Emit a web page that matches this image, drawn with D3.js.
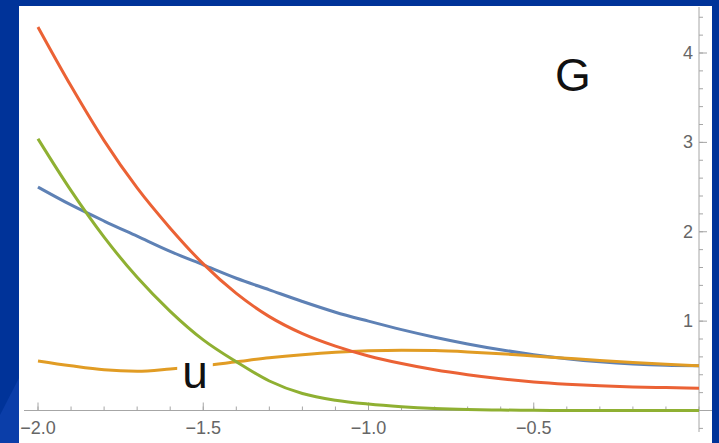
<!DOCTYPE html>
<html>
<head>
<meta charset="utf-8">
<script src="https://cdn.jsdelivr.net/npm/d3@7"></script>
<style>
  html, body { margin: 0; padding: 0; background: #003399; }
  svg { display: block; }
</style>
</head>
<body>
<svg id="chart" width="719" height="443"></svg>
<script>
// Sample points along x (step 0.1)
const xs = [-2.0, -1.9, -1.8, -1.7, -1.6, -1.5, -1.4, -1.3, -1.2, -1.1, -1.0,
            -0.9, -0.8, -0.7, -0.6, -0.5, -0.4, -0.3, -0.2, -0.1, 0.0];

// Curve values at those x
const blueVals   = [2.50, 2.30, 2.12, 1.95, 1.78, 1.63, 1.48, 1.35, 1.22, 1.10, 1.00,
                    0.905, 0.82, 0.745, 0.68, 0.625, 0.58, 0.545, 0.52, 0.505, 0.50];
const orangeVals = [0.555, 0.50, 0.455, 0.44, 0.465, 0.50, 0.545, 0.59, 0.625, 0.652, 0.668,
                    0.675, 0.67, 0.655, 0.635, 0.61, 0.585, 0.56, 0.537, 0.517, 0.50];
const greenVals  = [3.04, 2.46, 1.94, 1.49, 1.11, 0.79, 0.545, 0.33, 0.19, 0.115, 0.072,
                    0.043, 0.023, 0.011, 0.005, 0.002, 0.001, 0, 0, 0, 0];
const redVals    = [4.29, 3.63, 3.02, 2.49, 2.04, 1.64, 1.31, 1.05, 0.86, 0.72, 0.61,
                    0.525, 0.455, 0.40, 0.355, 0.32, 0.295, 0.277, 0.264, 0.256, 0.25];

// Axis ticks
const xMajorTicks = [-2.0, -1.5, -1.0, -0.5];
const xTickLabels = ["\u22122.0", "\u22121.5", "\u22121.0", "\u22120.5"];
const xMinorTicks = d3.range(-20, 1).map(i => i / 10);
const yMajorTicks = [1, 2, 3, 4];
const yTickLabels = ["1", "2", "3", "4"];
const yMinorTicks = d3.range(-1, 23).map(i => i / 5);

const svg = d3.select("#chart");

// Slide background with a lighter diagonal streak in the lower-left corner
svg.append("rect").attr("x", 0).attr("y", 0).attr("width", 719).attr("height", 443).attr("fill", "#003399");
svg.append("polygon").attr("points", "0,443 0,415 19,378 19,443").attr("fill", "#0b3ea9");

// White plotting panel
svg.append("rect").attr("x", 19).attr("y", 6).attr("width", 693).attr("height", 437).attr("fill", "#ffffff");

const x = d3.scaleLinear().domain([-2, 0]).range([38, 699]);
const y = d3.scaleLinear().domain([0, 4]).range([410.5, 53]);

const axisColor = "#a6a6a6";
const labelColor = "#666666";
const g = svg.append("g");

// x axis (drawn at y = 0), ticks pointing up
g.append("line").attr("x1", 24).attr("x2", 712).attr("y1", y(0)).attr("y2", y(0))
  .attr("stroke", axisColor).attr("stroke-width", 1);
g.selectAll(".xminor").data(xMinorTicks).enter().append("line")
  .attr("x1", d => x(d)).attr("x2", d => x(d))
  .attr("y1", y(0)).attr("y2", y(0) - 4)
  .attr("stroke", axisColor).attr("stroke-width", 1);
g.selectAll(".xmajor").data(xMajorTicks).enter().append("line")
  .attr("x1", d => x(d)).attr("x2", d => x(d))
  .attr("y1", y(0)).attr("y2", y(0) - 8)
  .attr("stroke", axisColor).attr("stroke-width", 1);
g.selectAll(".xlab").data(xMajorTicks).enter().append("text")
  .attr("x", d => x(d)).attr("y", 434)
  .attr("text-anchor", "middle")
  .attr("font-family", "Liberation Sans, Arial, sans-serif")
  .attr("font-size", 18).attr("fill", labelColor)
  .text((d, i) => xTickLabels[i]);

// y axis (drawn at x = 0), ticks pointing right
g.append("line").attr("x1", x(0)).attr("x2", x(0)).attr("y1", 7).attr("y2", 432)
  .attr("stroke", axisColor).attr("stroke-width", 1);
g.selectAll(".yminor").data(yMinorTicks).enter().append("line")
  .attr("x1", x(0)).attr("x2", x(0) + 4)
  .attr("y1", d => y(d)).attr("y2", d => y(d))
  .attr("stroke", axisColor).attr("stroke-width", 1);
g.selectAll(".ymajor").data(yMajorTicks).enter().append("line")
  .attr("x1", x(0)).attr("x2", x(0) + 8)
  .attr("y1", d => y(d)).attr("y2", d => y(d))
  .attr("stroke", axisColor).attr("stroke-width", 1);
g.selectAll(".ylab").data(yMajorTicks).enter().append("text")
  .attr("x", x(0) - 6).attr("y", d => y(d) + 6)
  .attr("text-anchor", "end")
  .attr("font-family", "Liberation Sans, Arial, sans-serif")
  .attr("font-size", 18).attr("fill", labelColor)
  .text((d, i) => yTickLabels[i]);

// Curves, in drawing order
const series = [
  { vals: blueVals,   color: "#5e81b5" },
  { vals: orangeVals, color: "#e19c24" },
  { vals: greenVals,  color: "#8fb032" },
  { vals: redVals,    color: "#eb6235" }
];
const line = d3.line()
  .x(d => x(d[0]))
  .y(d => y(d[1]))
  .curve(d3.curveMonotoneX);

series.forEach(s => {
  svg.append("path")
    .datum(xs.map((xv, i) => [xv, s.vals[i]]))
    .attr("d", line)
    .attr("fill", "none")
    .attr("stroke", s.color)
    .attr("stroke-width", 3);
});

// Text labels with white backing
const labels = [
  { text: "G", cx: 573, base: 91 },
  { text: "u", cx: 195, base: 388 }
];
labels.forEach(l => {
  const t = svg.append("text")
    .attr("x", l.cx).attr("y", l.base)
    .attr("text-anchor", "middle")
    .attr("font-family", "Liberation Sans, Arial, sans-serif")
    .attr("font-size", 46).attr("fill", "#111111")
    .text(l.text);
  const bb = t.node().getBBox();
  svg.insert("rect", () => t.node())
    .attr("x", bb.x - 5).attr("y", bb.y + 8)
    .attr("width", bb.width + 10).attr("height", bb.height - 8)
    .attr("fill", "#ffffff");
});
</script>
</body>
</html>
